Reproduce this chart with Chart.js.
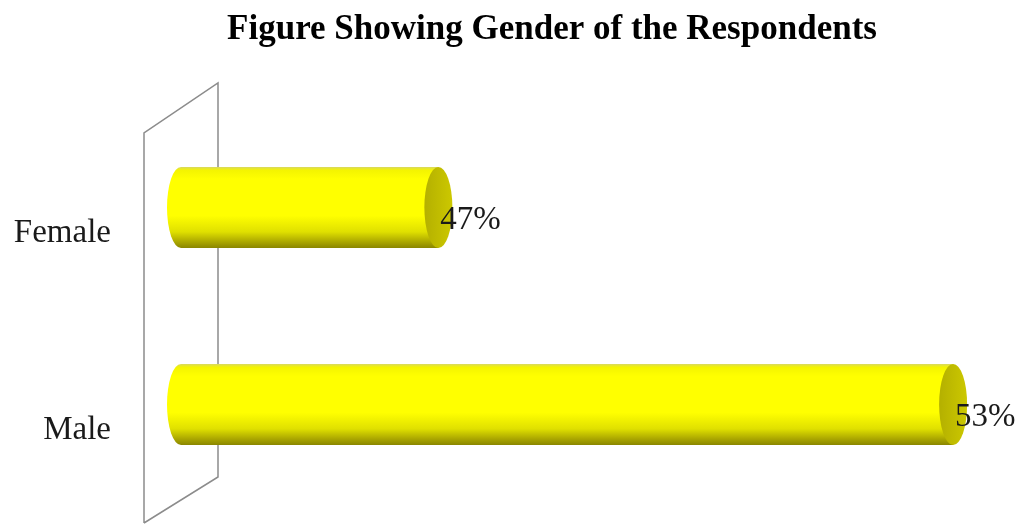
<!DOCTYPE html>
<html>
<head>
<meta charset="utf-8">
<script src="https://cdn.jsdelivr.net/npm/chart.js@4/dist/chart.umd.min.js"></script>
<style>
    html, body { margin: 0; padding: 0; background: #ffffff; }
    #wrap { width: 1021px; height: 525px; }
</style>
</head>
<body>
<div id="wrap"><canvas id="genderChart"></canvas></div>
<script>
// Dados do gráfico
const chartTitle = 'Figure Showing Gender of the Respondents';
const categories = ['Female', 'Male'];
const percentages = [47, 53];
const axisMin = 44;
const axisMax = 53.5;

const serif = "'Liberation Serif', 'Times New Roman', serif";

// Parede 3D atrás das barras
const wallPlugin = {
    id: 'wall',
    beforeDatasetsDraw(chart) {
        const { ctx, chartArea } = chart;
        const x0 = chartArea.left - 37;
        const x1 = chartArea.left + 37;
        ctx.save();
        ctx.strokeStyle = '#8c8c8c';
        ctx.lineWidth = 1.5;
        ctx.beginPath();
        ctx.moveTo(x0, chartArea.bottom + 20);
        ctx.lineTo(x0, chartArea.top + 24);
        ctx.lineTo(x1, chartArea.top - 26);
        ctx.lineTo(x1, chartArea.bottom - 26);
        ctx.lineTo(x0, chartArea.bottom + 20);
        ctx.stroke();
        ctx.restore();
    }
};

// Desenha cada barra como um cilindro
const cylinderPlugin = {
    id: 'cylinder',
    afterDatasetsDraw(chart) {
        const { ctx } = chart;
        const meta = chart.getDatasetMeta(0);
        meta.data.forEach((bar, i) => {
            const { x, y, base, height } = bar.getProps(['x', 'y', 'base', 'height'], true);
            const top = y - height / 2;
            const bottom = y + height / 2;
            const rx = 14;

            const grad = ctx.createLinearGradient(0, top, 0, bottom);
            grad.addColorStop(0, '#d8d860');
            grad.addColorStop(0.04, '#f4f400');
            grad.addColorStop(0.15, '#ffff00');
            grad.addColorStop(0.6, '#ffff00');
            grad.addColorStop(0.8, '#e0e000');
            grad.addColorStop(0.93, '#a8a400');
            grad.addColorStop(1, '#8a8600');

            ctx.save();
            ctx.fillStyle = grad;
            ctx.beginPath();
            ctx.ellipse(base, y, rx, height / 2, 0, Math.PI / 2, Math.PI * 1.5);
            ctx.lineTo(x, top);
            ctx.lineTo(x, bottom);
            ctx.closePath();
            ctx.fill();

            // tampa da ponta
            const capGrad = ctx.createLinearGradient(x - rx, 0, x + rx, 0);
            capGrad.addColorStop(0, '#b4b000');
            capGrad.addColorStop(1, '#ccc800');
            ctx.fillStyle = capGrad;
            ctx.beginPath();
            ctx.ellipse(x, y, rx, height / 2, 0, 0, Math.PI * 2);
            ctx.fill();

            // rótulo do valor
            ctx.fillStyle = '#1a1a1a';
            ctx.font = '33px ' + serif;
            ctx.textAlign = 'left';
            ctx.textBaseline = 'alphabetic';
            ctx.fillText(percentages[i] + '%', x + 2, y + 21);
            ctx.restore();
        });
    }
};

// Título desenhado à mão (centro deslocado como no original)
const titlePlugin = {
    id: 'titleText',
    afterDraw(chart) {
        const { ctx } = chart;
        ctx.save();
        ctx.fillStyle = '#000000';
        ctx.font = 'bold 35px ' + serif;
        ctx.textAlign = 'center';
        ctx.textBaseline = 'alphabetic';
        ctx.fillText(chartTitle, 552, 39);
        ctx.restore();
    }
};

new Chart(document.getElementById('genderChart'), {
    type: 'bar',
    data: {
        labels: categories,
        datasets: [{
            data: percentages,
            base: axisMin,
            backgroundColor: 'rgba(0,0,0,0)',
            borderWidth: 0,
            barThickness: 81
        }]
    },
    options: {
        indexAxis: 'y',
        responsive: true,
        maintainAspectRatio: false,
        animation: false,
        layout: { padding: { top: 109, bottom: 22, right: 25, left: 0 } },
        plugins: {
            legend: { display: false },
            tooltip: { enabled: false },
            title: { display: false }
        },
        scales: {
            x: {
                display: false,
                min: axisMin,
                max: axisMax
            },
            y: {
                border: { display: false },
                grid: { display: false, drawTicks: false },
                ticks: {
                    color: '#1a1a1a',
                    font: { family: serif, size: 33 },
                    padding: 70,
                    labelOffset: 26
                },
                afterFit(scale) {
                    scale.width = 181;
                    scale.paddingTop = 0;
                    scale.paddingBottom = 0;
                }
            }
        }
    },
    plugins: [wallPlugin, cylinderPlugin, titlePlugin]
});
</script>
</body>
</html>
